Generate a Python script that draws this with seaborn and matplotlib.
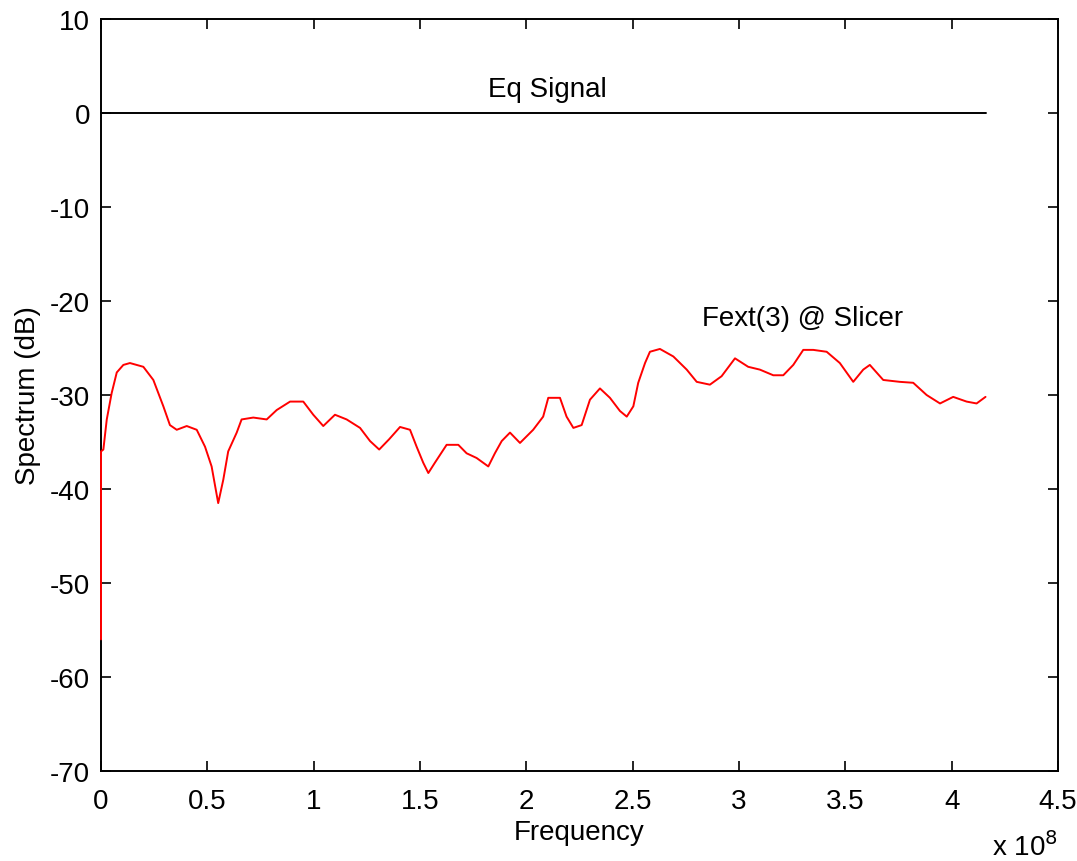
import numpy as np
import matplotlib
matplotlib.use("Agg")
import matplotlib.pyplot as plt
import seaborn as sns

# Frequency axis values in units of 1e8 Hz
freq_e8 = [0.000, 0.000, 0.011, 0.027, 0.050, 0.074, 0.105, 0.136, 0.199, 0.246,
           0.293, 0.324, 0.356, 0.403, 0.450, 0.489, 0.520, 0.551, 0.575, 0.598,
           0.638, 0.661, 0.716, 0.779, 0.826, 0.889, 0.951, 0.998, 1.045, 1.100,
           1.155, 1.218, 1.265, 1.308, 1.355, 1.406, 1.453, 1.484, 1.515, 1.539,
           1.570, 1.625, 1.680, 1.719, 1.766, 1.821, 1.852, 1.884, 1.923, 1.970,
           2.032, 2.079, 2.103, 2.158, 2.189, 2.221, 2.260, 2.299, 2.346, 2.393,
           2.440, 2.472, 2.503, 2.526, 2.558, 2.581, 2.628, 2.691, 2.754, 2.801,
           2.863, 2.918, 2.981, 3.043, 3.098, 3.161, 3.208, 3.255, 3.302, 3.349,
           3.412, 3.474, 3.537, 3.584, 3.615, 3.678, 3.756, 3.819, 3.882, 3.945,
           4.007, 4.070, 4.117, 4.159]

# FEXT spectrum at the slicer (dB)
fext_db = [-56.0, -36.0, -35.8, -32.6, -29.8, -27.6, -26.8, -26.6, -27.0, -28.4,
           -31.2, -33.2, -33.7, -33.3, -33.7, -35.5, -37.6, -41.5, -39.0, -36.0,
           -34.0, -32.6, -32.4, -32.6, -31.6, -30.7, -30.7, -32.1, -33.3, -32.1,
           -32.6, -33.5, -34.9, -35.8, -34.7, -33.4, -33.7, -35.5, -37.2, -38.3,
           -37.2, -35.3, -35.3, -36.2, -36.7, -37.6, -36.2, -34.9, -34.0, -35.1,
           -33.7, -32.3, -30.3, -30.3, -32.3, -33.5, -33.2, -30.5, -29.3, -30.3,
           -31.7, -32.3, -31.2, -28.7, -26.6, -25.4, -25.1, -25.9, -27.3, -28.6,
           -28.9, -28.0, -26.1, -27.0, -27.3, -27.9, -27.9, -26.8, -25.2, -25.2,
           -25.4, -26.6, -28.6, -27.3, -26.8, -28.4, -28.6, -28.7, -30.0, -30.9,
           -30.2, -30.7, -30.9, -30.2]

# Equalized signal reference level
eq_freq_e8 = [0.0, 4.16]
eq_db = [0.0, 0.0]

x_ticks_e8 = [0, 0.5, 1, 1.5, 2, 2.5, 3, 3.5, 4, 4.5]
x_tick_labels = ["0", "0.5", "1", "1.5", "2", "2.5", "3", "3.5", "4", "4.5"]
y_ticks = [10, 0, -10, -20, -30, -40, -50, -60, -70]

sns.set_theme(style="ticks")
plt.rcParams['font.family'] = ['Liberation Sans', 'DejaVu Sans']

FS = 20
fig = plt.figure(figsize=(10.77, 8.62), dpi=100)
ax = fig.add_axes([0.0938, 0.1044, 0.8886, 0.8724])

scale = 1e8
sns.lineplot(x=np.array(eq_freq_e8) * scale, y=eq_db, color="black", lw=1.4,
             estimator=None, sort=False, ax=ax)
sns.lineplot(x=np.array(freq_e8) * scale, y=fext_db, color="red", lw=1.4,
             estimator=None, sort=False, ax=ax, zorder=3)
for line in ax.lines:
    line.set_clip_on(False)

ax.set_xlim(0, 4.5e8)
ax.set_ylim(-70, 10)
ax.set_xticks(np.array(x_ticks_e8) * scale)
ax.set_xticklabels(x_tick_labels)
ax.set_yticks(y_ticks)
ax.set_yticklabels([str(v) for v in y_ticks])

for side in ["top", "right", "left", "bottom"]:
    ax.spines[side].set_visible(True)
    ax.spines[side].set_color("black")
    ax.spines[side].set_linewidth(1.4)

ax.tick_params(axis="both", which="major", direction="in", length=7, width=1.2,
               color="black", labelsize=FS, labelcolor="black",
               top=True, right=True)
ax.tick_params(axis="x", pad=12)
ax.tick_params(axis="y", pad=8)

ax.set_xlabel("Frequency", fontsize=FS, color="black", labelpad=4)
ax.set_ylabel("Spectrum (dB)", fontsize=FS, color="black", labelpad=6)

ax.text(2.1e8, 2.6, "Eq Signal", fontsize=FS, ha="center", va="center", color="black")
ax.text(3.3e8, -21.8, "Fext(3) @ Slicer", fontsize=FS, ha="center", va="center", color="black")

fig.text(0.921, 0.0, r"x 10$^{8}$", fontsize=FS, ha="left", va="bottom", color="black")

fig.savefig("out.png", dpi=100, facecolor="white")
